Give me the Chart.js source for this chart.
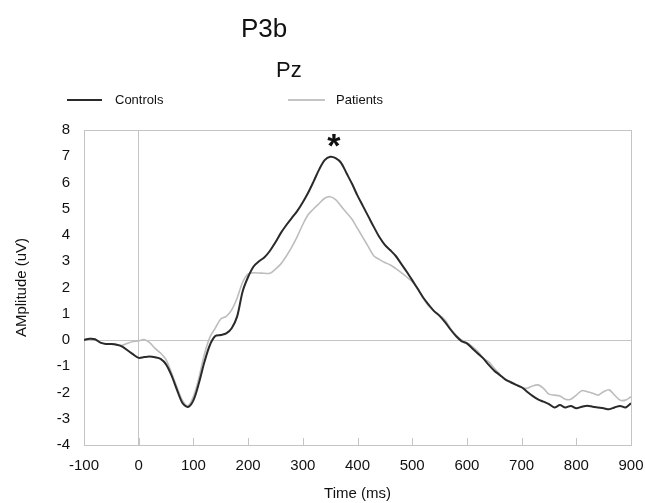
<!DOCTYPE html>
<html>
<head>
<meta charset="utf-8">
<script src="https://cdn.jsdelivr.net/npm/chart.js@4/dist/chart.umd.min.js"></script>
<style>
  html, body { margin: 0; padding: 0; background: #fff; }
  #wrap { position: relative; width: 645px; height: 503px; font-family: "Liberation Sans", Arial, sans-serif; color: #111; }
  #grafico { position: absolute; left: 0; top: 0; }
  .lbl { position: absolute; white-space: nowrap; }
  .swatch { position: absolute; height: 2px; }
</style>
</head>
<body>
<div id="wrap">
  <canvas id="grafico" width="645" height="503"></canvas>
  <div class="lbl" id="t1" style="left:241px; top:13px; font-size:26px;">P3b</div>
  <div class="lbl" id="t2" style="left:276px; top:57px; font-size:22px;">Pz</div>
  <div class="swatch" style="left:67px; top:99px; width:35px; background:#2a2a2a;"></div>
  <div class="lbl" style="left:115px; top:92px; font-size:13px;">Controls</div>
  <div class="swatch" style="left:288px; top:99px; width:37px; background:#c4c4c4;"></div>
  <div class="lbl" style="left:336px; top:92px; font-size:13px;">Patients</div>
</div>
<script>
var tiempo = [];
for (var t = -100; t <= 900; t += 10) tiempo.push(t);

var controles = [
  0, 0.05, 0.03, -0.1, -0.15, -0.15, -0.18, -0.25, -0.4, -0.55,
  -0.68, -0.65, -0.63, -0.66, -0.72, -0.93, -1.35, -1.9, -2.4, -2.55,
  -2.3, -1.65, -0.85, -0.2, 0.15, 0.19, 0.25, 0.45, 0.9, 1.85,
  2.4, 2.8, 3.0, 3.15, 3.4, 3.72, 4.08, 4.38, 4.65, 4.92,
  5.25, 5.62, 6.05, 6.5, 6.85, 6.98, 6.93, 6.75, 6.35, 5.95,
  5.5, 5.1, 4.7, 4.3, 3.92, 3.62, 3.42, 3.2, 2.9, 2.6,
  2.28, 1.95, 1.62, 1.35, 1.1, 0.92, 0.68, 0.4, 0.15, -0.04,
  -0.13, -0.32, -0.51, -0.7, -0.95, -1.17, -1.33, -1.5, -1.61, -1.71,
  -1.8, -1.97, -2.13, -2.26, -2.35, -2.44, -2.57, -2.48, -2.57, -2.51,
  -2.6, -2.54, -2.5, -2.54, -2.57, -2.6, -2.64, -2.57, -2.51, -2.57,
  -2.41
];

var pacientes = [
  0, 0.05, 0.03, -0.1, -0.15, -0.15, -0.18, -0.2, -0.12, -0.06,
  -0.03, 0.02, -0.1, -0.32, -0.5, -0.75, -1.25, -1.8, -2.3, -2.5,
  -2.15, -1.45, -0.55, 0.1, 0.45, 0.8, 0.9, 1.15, 1.6, 2.2,
  2.52, 2.56, 2.55, 2.54, 2.54, 2.7, 2.9, 3.2, 3.55, 3.95,
  4.4, 4.78, 5.0, 5.2, 5.4, 5.46, 5.35, 5.1, 4.85, 4.6,
  4.25, 3.9, 3.55, 3.2, 3.07, 2.95, 2.86, 2.72, 2.57, 2.4,
  2.22, 1.97, 1.6, 1.3, 1.1, 0.95, 0.76, 0.44, 0.19, 0,
  -0.1, -0.25, -0.44, -0.7, -0.83, -1.08, -1.3, -1.5, -1.59, -1.71,
  -1.81, -1.84, -1.75, -1.71, -1.84, -2.06, -2.1, -2.13, -2.26, -2.26,
  -2.1, -1.93, -1.97, -2.03, -2.1, -1.97, -1.9, -2.1, -2.29, -2.29,
  -2.16
];

// significance marker
var marcaX = 355;
var marcaY = 7.6;

function puntos(vals) {
  var out = [];
  for (var i in vals) out.push({x: tiempo[i], y: vals[i]});
  return out;
}

var fuente = "'Liberation Sans', Arial, sans-serif";

// small inward ticks on the x axis + the asterisk
var extras = {
  id: 'extras',
  afterDatasetsDraw: function(chart) {
    var ctx = chart.ctx, xs = chart.scales.x, ys = chart.scales.y;
    var base = ys.getPixelForValue(-4);
    ctx.save();
    ctx.strokeStyle = '#c4c4c4';
    ctx.lineWidth = 1;
    for (var v = 0; v <= 800; v += 100) {
      var px = Math.round(xs.getPixelForValue(v)) + 0.5;
      ctx.beginPath();
      ctx.moveTo(px, base);
      ctx.lineTo(px, base - 7);
      ctx.stroke();
    }
    ctx.fillStyle = '#111';
    ctx.font = 'bold 34px ' + fuente;
    ctx.textAlign = 'center';
    ctx.textBaseline = 'middle';
    ctx.fillText('*', xs.getPixelForValue(marcaX) + 1, ys.getPixelForValue(marcaY) + 7);
    ctx.restore();
  }
};

var chartdata = {
  datasets: [
    {
      label: 'Controls',
      borderColor: '#2a2a2a',
      borderWidth: 2,
      fill: false,
      pointRadius: 0,
      tension: 0.3,
      data: puntos(controles)
    },
    {
      label: 'Patients',
      borderColor: '#bdbdbd',
      borderWidth: 1.6,
      fill: false,
      pointRadius: 0,
      tension: 0.3,
      data: puntos(pacientes)
    }
  ]
};

var line = new Chart(document.getElementById('grafico'), {
  type: 'line',
  data: chartdata,
  plugins: [extras],
  options: {
    responsive: false,
    animation: false,
    layout: { padding: { left: 0, right: 14, top: 130, bottom: 0 } },
    plugins: {
      legend: { display: false },
      tooltip: { enabled: false }
    },
    scales: {
      x: {
        type: 'linear',
        min: -100,
        max: 900,
        afterFit: function(s) { s.height = 58; s.paddingLeft = 0; s.paddingRight = 0; },
        border: { display: true, color: '#c4c4c4' },
        grid: {
          drawTicks: false,
          color: function(c) { return (c.tick.value === 0 || c.tick.value === 900) ? '#c4c4c4' : 'rgba(0,0,0,0)'; }
        },
        ticks: { stepSize: 100, maxRotation: 0, padding: 12, color: '#111', font: { family: fuente, size: 15 } },
        title: { display: true, text: 'Time (ms)', color: '#111', padding: { top: 0, bottom: 0 }, font: { family: fuente, size: 15 } }
      },
      y: {
        min: -4,
        max: 8,
        afterFit: function(s) { s.width = 84; s.paddingTop = 0; s.paddingBottom = 0; },
        border: { display: true, color: '#c4c4c4' },
        grid: {
          drawTicks: false,
          color: function(c) { return (c.tick.value === 0 || c.tick.value === 8) ? '#c4c4c4' : 'rgba(0,0,0,0)'; }
        },
        ticks: { stepSize: 1, padding: 14, color: '#111', font: { family: fuente, size: 15 } },
        title: { display: true, text: 'AMplitude (uV)', color: '#111', padding: { top: 13, bottom: 0 }, font: { family: fuente, size: 15 } }
      }
    }
  }
});
</script>
</body>
</html>
